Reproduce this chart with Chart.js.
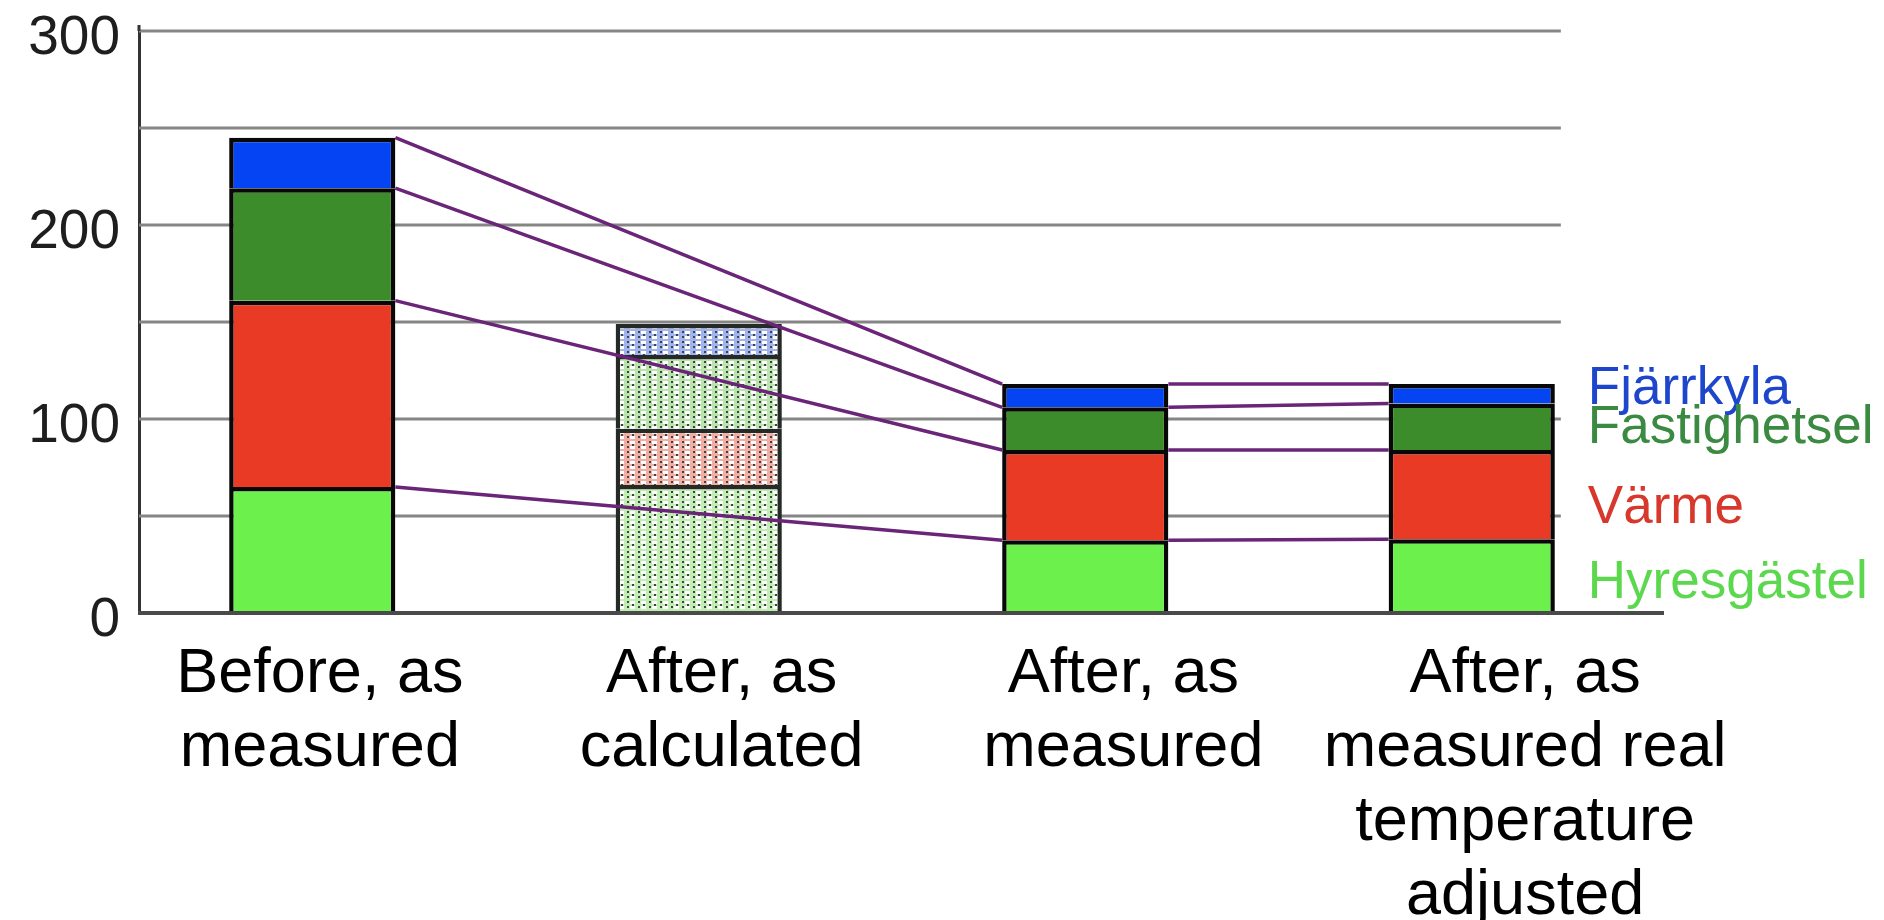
<!DOCTYPE html>
<html>
<head>
<meta charset="utf-8">
<script src="https://cdn.jsdelivr.net/npm/chart.js@4.4.1/dist/chart.umd.min.js"></script>
<style>
  html, body { margin: 0; padding: 0; background: #ffffff; }
  canvas { display: block; }
</style>
</head>
<body>
<canvas id="energy" width="1884" height="920"></canvas>
<script>
// ---- data ----
const categories = [
  ['Before, as', 'measured'],
  ['After, as', 'calculated'],
  ['After, as', 'measured'],
  ['After, as', 'measured real', 'temperature', 'adjusted']
];
const seriesNames = ['Hyresgästel', 'Värme', 'Fastighetsel', 'Fjärrkyla'];
const hyresgastel  = [65, 66, 37.5, 38];
const varme        = [96, 29, 46.5, 46];
const fastighetsel = [58, 38, 22, 24];
const fjarrkyla    = [26, 16, 12, 10];
const yTickLabels  = [0, 100, 200, 300];
// columns joined by connector lines at every stack boundary
const links = [[0, 2], [2, 3]];
// column drawn with a stippled fill (calculated, not measured)
const calculatedIndex = 1;

// ---- styles ----
const FONT = "'Liberation Sans', Arial, Helvetica, sans-serif";
const solidFill = ['#6cf04c', '#e83a24', '#3c8c2c', '#0444f2'];
const tintFill  = ['#c2eeb4', '#f2aea2', '#b9e4ac', '#a2b4ee'];
const tagColors = ['#5cd84e', '#d8382c', '#3b8a42', '#1e46cc'];
const tagNudge  = [7, 14, 2, -4];

function stipple(tint, ink) {
  const c = document.createElement('canvas');
  c.width = 11; c.height = 10;
  const g = c.getContext('2d');
  g.fillStyle = tint; g.fillRect(0, 0, 11, 10);
  g.fillStyle = '#ffffff';
  g.fillRect(3, 1, 5, 3);
  g.fillRect(3, 6, 5, 3);
  g.fillStyle = ink;
  g.fillRect(0, 1, 2, 2);
  g.fillRect(0, 6, 2, 2);
  g.fillRect(5, 4, 2, 2);
  return g.createPattern(c, 'repeat');
}

const seriesValues = [hyresgastel, varme, fastighetsel, fjarrkyla];
const datasets = seriesNames.map((name, d) => {
  const pat = stipple(tintFill[d], '#3e4348');
  return {
    label: name,
    data: seriesValues[d],
    backgroundColor: categories.map((_, i) => i === calculatedIndex ? pat : solidFill[d]),
    borderColor: categories.map((_, i) => i === calculatedIndex ? '#262a26' : '#080808'),
    borderWidth: 4.5,
    borderSkipped: 'start',
    barPercentage: 0.43,
    categoryPercentage: 1.0,
    xAxisID: 'x',
    yAxisID: 'y'
  };
});

// horizontal grid lines, ending a little past the last column
const gridLines = {
  id: 'gridLines',
  beforeDatasetsDraw(chart, args, o) {
    const y = chart.scales.y, a = chart.chartArea, ctx = chart.ctx;
    const last = chart.getDatasetMeta(0).data[categories.length - 1];
    const end = last.x + last.width / 2 + o.overhang;
    ctx.save();
    ctx.strokeStyle = o.color;
    ctx.lineWidth = o.width;
    y.ticks.forEach(t => {
      if (t.value === 0) return;
      const py = y.getPixelForValue(t.value);
      ctx.beginPath();
      ctx.moveTo(a.left, py);
      ctx.lineTo(end, py);
      ctx.stroke();
    });
    ctx.restore();
  },
  afterDatasetsDraw(chart, args, o) {
    const y = chart.scales.y, a = chart.chartArea, ctx = chart.ctx;
    const py = y.getPixelForValue(0);
    ctx.save();
    ctx.strokeStyle = o.zeroColor;
    ctx.lineWidth = o.zeroWidth;
    ctx.beginPath();
    ctx.moveTo(a.left - 1, py);
    ctx.lineTo(a.right + o.zeroExtra, py);
    ctx.stroke();
    // value axis runs slightly above the top grid line
    ctx.strokeStyle = o.axisColor;
    ctx.lineWidth = 3;
    ctx.beginPath();
    ctx.moveTo(a.left, a.top);
    ctx.lineTo(a.left, a.top - o.axisRise);
    ctx.stroke();
    ctx.restore();
  }
};

// lines joining matching stack boundaries of two columns
const connectors = {
  id: 'connectors',
  afterDatasetsDraw(chart, args, o) {
    const ctx = chart.ctx;
    ctx.save();
    ctx.strokeStyle = o.color;
    ctx.lineWidth = o.width;
    chart.data.datasets.forEach((ds, d) => {
      const els = chart.getDatasetMeta(d).data;
      links.forEach(([from, to]) => {
        const p = els[from], q = els[to];
        ctx.beginPath();
        ctx.moveTo(p.x + p.width / 2, p.y);
        ctx.lineTo(q.x - q.width / 2, q.y);
        ctx.stroke();
      });
    });
    ctx.restore();
  }
};

// series names written beside the last column
const seriesTags = {
  id: 'seriesTags',
  afterDatasetsDraw(chart, args, o) {
    const ctx = chart.ctx;
    ctx.save();
    ctx.font = o.font;
    ctx.textBaseline = 'middle';
    ctx.textAlign = 'left';
    for (let d = chart.data.datasets.length - 1; d >= 0; d--) {
      const el = chart.getDatasetMeta(d).data[categories.length - 1];
      ctx.fillStyle = o.colors[d];
      ctx.fillText(chart.data.datasets[d].label,
        el.x + el.width / 2 + o.gap,
        (el.y + el.base) / 2 + o.nudge[d]);
    }
    ctx.restore();
  }
};

// let the category axes reach a little beyond the plot area
const axisSpan = {
  id: 'axisSpan',
  afterLayout(chart, args, o) {
    const a = chart.chartArea;
    Object.keys(o.spans).forEach(id => {
      const s = chart.scales[id], sp = o.spans[id];
      s.left = a.left + sp.left;
      s.right = a.right + sp.right;
      s.width = s.right - s.left;
      s.configure();
    });
  }
};

Chart.defaults.font.family = FONT;

new Chart(document.getElementById('energy'), {
  type: 'bar',
  data: { labels: categories, datasets },
  plugins: [gridLines, connectors, seriesTags, axisSpan],
  options: {
    responsive: false,
    animation: false,
    layout: { padding: { left: 0, top: 31, right: 233, bottom: 0 } },
    scales: {
      x: {
        stacked: true,
        display: false,
        offset: true
      },
      xl: {
        type: 'category',
        position: 'bottom',
        offset: true,
        grid: { display: false, drawTicks: false },
        border: { display: false },
        ticks: {
          autoSkip: false,
          maxRotation: 0,
          minRotation: 0,
          padding: 25,
          color: '#000000',
          font: { family: FONT, size: 63, lineHeight: '74px' }
        },
        afterFit(scale) { scale.height = 307; }
      },
      y: {
        stacked: true,
        min: 0,
        max: 300,
        grid: { display: false, drawTicks: false },
        border: { display: true, color: '#333333', width: 3 },
        ticks: {
          stepSize: 50,
          autoSkip: false,
          padding: 19,
          labelOffset: 8,
          color: '#1e1e1e',
          font: { family: FONT, size: 55 },
          callback: v => yTickLabels.includes(v) ? String(v) : ''
        },
        afterFit(scale) {
          scale.width = 139;
          scale.paddingTop = 0;
          scale.paddingBottom = 0;
        }
      }
    },
    plugins: {
      legend: { display: false },
      tooltip: { enabled: false },
      gridLines: { color: '#858585', width: 3, overhang: 6, zeroColor: '#4a4a4a', zeroWidth: 4, zeroExtra: 13, axisColor: '#333333', axisRise: 6 },
      connectors: { color: '#6a2478', width: 3.5 },
      seriesTags: { font: '53px ' + FONT, colors: tagColors, gap: 33, nudge: tagNudge },
      axisSpan: { spans: { x: { left: -20, right: 14 }, xl: { left: -20, right: 75 } } }
    }
  }
});
</script>
</body>
</html>
